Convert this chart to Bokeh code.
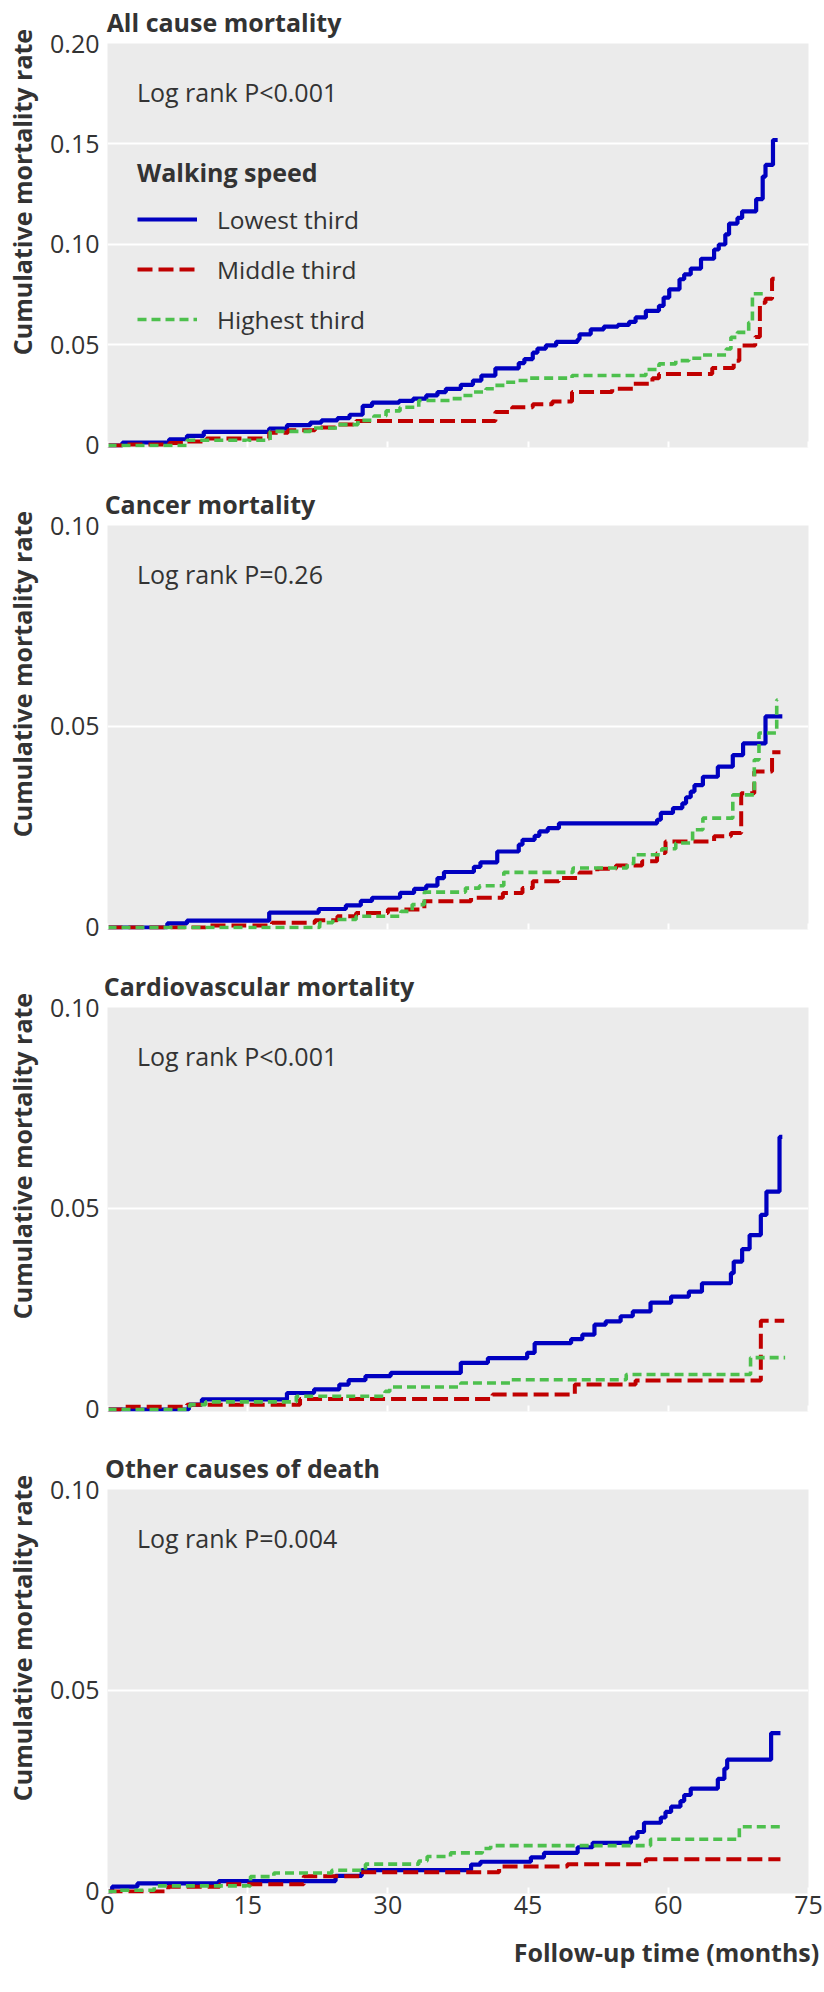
from bokeh.plotting import figure
from bokeh.models import Range1d, FixedTicker, Label, Legend, LegendItem, LinearAxis
from bokeh.layouts import column
from bokeh.embed import file_html
from bokeh.resources import INLINE

# ---------------- data / texts ----------------
panel_titles = ["All cause mortality", "Cancer mortality",
                "Cardiovascular mortality", "Other causes of death"]
log_rank_texts = ["Log rank P<0.001", "Log rank P=0.26",
                  "Log rank P<0.001", "Log rank P=0.004"]
log_rank_y = [0.176, 0.088, 0.088, 0.088]
log_rank_x = 3.15
y_max = [0.20, 0.10, 0.10, 0.10]
y_ticks_all = [0, 0.05, 0.10, 0.15, 0.20]
y_tick_labels_all = ["0", "0.05", "0.10", "0.15", "0.20"]
y_ticks_other = [0, 0.05, 0.10]
y_tick_labels_other = ["0", "0.05", "0.10"]
x_ticks = [0, 15, 30, 45, 60, 75]
x_tick_labels = ["0", "15", "30", "45", "60", "75"]
series_names = ["Lowest third", "Middle third", "Highest third"]
legend_title = "Walking speed"
y_title = "Cumulative mortality rate"
x_title = "Follow-up time (months)"

all_low_t = [0, 1.6, 6.6, 8.5, 10.3, 17.3, 19.2, 21.7, 22.9, 24.6, 25.9, 27.3, 28.3, 31.2, 32.7,
             34.1, 35.3, 36.2, 37.8, 39.1, 40.0, 41.5, 44.0, 44.6, 45.5, 46.0, 46.9, 48.0, 50.3,
             50.5, 51.7, 53.1, 54.6, 55.8, 56.5, 57.6, 59.0, 59.5, 60.1, 61.2, 61.7, 62.4, 63.5,
             64.9, 65.4, 66.1, 66.5, 67.4, 67.9, 69.4, 70.1, 70.4, 71.2, 71.7]
all_low_v = [0, .0015, .0031, .0048, .0068, .0084, .0101, .0114, .0125, .0136, .0153, .0197, .0213,
             .0222, .0233, .0249, .0266, .0282, .0302, .0323, .0348, .0384, .041, .043, .0462, .0482,
             .0498, .0516, .0528, .0553, .0578, .0591, .06, .0615, .0637, .067, .0695, .0736, .0777,
             .0827, .0851, .088, .0929, .0975, .1, .105, .1104, .1132, .1165, .1226, .1338, .1396,
             .152, .152]
all_mid_t = [0, 2.1, 6.6, 8.5, 10.6, 17.3, 19.3, 22.2, 24.6, 26.6, 41.5, 43.3, 45.5, 47.6, 49.7,
             54.0, 56.3, 58.3, 59.0, 64.7, 67.0, 67.6, 69.3, 69.8, 70.4, 71.1, 71.9]
all_mid_v = [0, .0005, .0013, .002, .0035, .0064, .0076, .0089, .0104, .0122, .0167, .019, .0205,
             .0219, .0266, .0282, .0307, .0335, .0356, .0385, .0422, .0497, .054, .071, .073, .083,
             .083]
all_high_t = [0, 8.5, 17.4, 21.7, 24.6, 26.8, 28.5, 29.8, 31.3, 33.3, 36.9, 38.0, 39.1, 40.5, 41.5,
              42.6, 43.7, 45.1, 49.7, 57.6, 59.0, 60.8, 62.2, 63.7, 66.2, 66.7, 67.4, 68.6, 69.0,
              70.6]
all_high_v = [0, .0026, .007, .0087, .0104, .0125, .0147, .0172, .019, .0224, .0233, .0249, .0266,
              .0282, .0299, .0315, .0323, .0335, .0348, .0378, .0406, .0422, .0434, .045, .048,
              .0538, .0563, .0612, .0755, .0755]

can_low_t = [0, 6.4, 8.5, 17.3, 22.6, 25.5, 27.1, 28.3, 31.3, 32.8, 34.1, 35.3, 36.0, 39.2, 39.9,
             41.7, 44.0, 44.4, 45.7, 46.2, 47.1, 48.3, 58.8, 59.2, 60.5, 61.5, 61.9, 62.4, 62.8,
             63.7, 65.3, 66.9, 68.0, 70.4, 72.2]
can_low_v = [0, .001, .0017, .0037, .0046, .0055, .0066, .0074, .0086, .0096, .0104, .0123, .0138,
             .0151, .0162, .0189, .0206, .0218, .0228, .0239, .0247, .0259, .0268, .0285, .0297,
             .0309, .0324, .0338, .0354, .0375, .04, .0429, .0458, .0525, .0525]
can_mid_t = [0, 10.5, 17.6, 22.2, 24.6, 26.6, 30.0, 33.9, 38.9, 42.3, 44.4, 45.5, 48.3, 50.5, 52.4,
             54.4, 57.2, 58.8, 59.7, 64.9, 66.7, 67.8, 69.2, 71.1, 72.0]
can_mid_v = [0, .0005, .0012, .0018, .0028, .0036, .0045, .0065, .0074, .0086, .0098, .0115, .0123,
             .0137, .0146, .0154, .0165, .0185, .0214, .0227, .0235, .0334, .0388, .0436, .0436]
can_high_t = [0, 22.7, 24.1, 26.6, 31.4, 32.6, 33.9, 38.3, 39.8, 42.4, 49.8, 55.6, 56.3, 59.3, 60.8,
              62.6, 63.7, 66.9, 69.2, 69.7, 71.6, 71.7]
can_high_v = [0, .0012, .002, .0028, .004, .0057, .0088, .0098, .0104, .0137, .0148, .0159, .0181,
              .0196, .021, .0243, .0272, .033, .0417, .0484, .0566, .0566]

cvd_low_t = [0, 8.7, 10.1, 19.2, 22.1, 24.8, 25.8, 27.6, 30.3, 37.8, 40.7, 44.9, 45.7, 49.6, 50.8,
             52.1, 53.3, 54.9, 56.2, 58.1, 60.3, 62.2, 63.6, 66.7, 67.0, 67.9, 68.7, 69.9, 70.5,
             71.9, 72.2]
cvd_low_v = [0, .0012, .0025, .0041, .005, .0062, .0073, .0083, .0091, .0116, .0128, .0141, .0165,
             .0175, .0186, .0211, .0219, .0232, .0244, .0266, .0281, .0293, .0314, .0339, .0368,
             .0399, .0434, .0484, .0542, .0678, .0678]
cvd_mid_t = [0, 1.4, 8.5, 20.6, 41.2, 50.0, 56.5, 69.9, 72.4]
cvd_mid_v = [0, .0007, .0012, .0026, .0037, .0062, .0072, .0221, .0221]
cvd_high_t = [0, 8.8, 10.5, 20.2, 29.7, 30.2, 37.8, 43.2, 55.5, 68.8, 72.5]
cvd_high_v = [0, .0012, .0019, .0033, .0045, .0056, .0066, .0074, .0087, .0129, .0129]

oth_low_t = [0, 0.5, 3.2, 11.9, 24.4, 27.2, 38.9, 39.9, 45.3, 46.7, 50.3, 51.9, 56.0, 56.7, 57.4,
             59.2, 59.7, 60.3, 61.3, 61.7, 62.4, 65.3, 66.0, 66.3, 71.0, 72.0]
oth_low_v = [0, .0012, .002, .0026, .0039, .0053, .0067, .0074, .0085, .0096, .011, .0121, .0134,
             .0148, .0171, .0184, .0198, .0211, .0225, .024, .0256, .028, .0306, .0328, .0394, .0394]
oth_mid_t = [0, 6.5, 12.0, 21.0, 27.0, 41.9, 49.2, 57.6, 72.0]
oth_mid_v = [0, .0012, .0018, .0038, .0048, .0062, .0068, .008, .008]
oth_high_t = [0, 1.0, 5.0, 15.3, 17.8, 24.0, 27.6, 33.3, 34.2, 36.7, 40.1, 41.0, 58.1, 67.6, 72.2]
oth_high_v = [0, .0003, .0014, .0037, .0046, .0053, .0068, .0076, .0087, .0096, .0107, .0114, .013,
              .0161, .0161]

panels_data = [
    [(all_low_t, all_low_v), (all_mid_t, all_mid_v), (all_high_t, all_high_v)],
    [(can_low_t, can_low_v), (can_mid_t, can_mid_v), (can_high_t, can_high_v)],
    [(cvd_low_t, cvd_low_v), (cvd_mid_t, cvd_mid_v), (cvd_high_t, cvd_high_v)],
    [(oth_low_t, oth_low_v), (oth_mid_t, oth_mid_v), (oth_high_t, oth_high_v)],
]

# ---------------- style / layout ----------------
FONT = "Open Sans"
TXT = "#333333"
BG = "#EBEBEB"
COLORS = ["#0000C0", "#C00000", "#4DC04D"]
DASHES = ["solid", "15 6", "9 5"]
WIDTHS = [4.2, 4, 3.6]
FRAME_H = 404
FRAME_W = 701
LEFT = 107
RIGHT = 16
TOP = 43
PITCH = 482
LAST_BOTTOM = 99
TITLE_CENTER_PX = [116.5, 102.5, 151.5, 135.0]   # title centre, px right of frame left
YTITLE_CENTER_PX = 148.5                         # y title centre, px below frame top
XTITLE_CENTER_PX = 559.0                         # x title centre, px right of frame left
TITLE_STANDOFF = 5
YTITLE_STANDOFF = 9
XTITLE_STANDOFF = 18
YTICK_STANDOFF = 8
TICK_FONT = "25px"


def text_axis(tick, text, standoff, orientation="horizontal"):
    return LinearAxis(ticker=FixedTicker(ticks=[tick]),
                      major_label_overrides={tick: text},
                      major_label_orientation=orientation,
                      axis_line_color=None, major_tick_line_color=None,
                      minor_tick_line_color=None,
                      major_tick_in=0, major_tick_out=0, minor_tick_in=0, minor_tick_out=0,
                      major_label_standoff=standoff,
                      major_label_text_font=FONT, major_label_text_font_size="25px",
                      major_label_text_font_style="bold", major_label_text_color=TXT)


def make_panel(i):
    last = i == 3
    ymax = y_max[i]
    ticks = y_ticks_all if i == 0 else y_ticks_other
    tlabels = y_tick_labels_all if i == 0 else y_tick_labels_other
    bottom = LAST_BOTTOM if last else PITCH - TOP - FRAME_H
    y0 = -ymax * 0.005
    p = figure(width=LEFT + FRAME_W + RIGHT, height=TOP + FRAME_H + bottom,
               x_range=Range1d(0, 75), y_range=Range1d(y0, ymax),
               output_backend="svg", toolbar_location=None,
               min_border_left=LEFT, min_border_right=RIGHT, min_border_top=TOP,
               min_border_bottom=bottom)
    p.background_fill_color = BG
    p.border_fill_color = "white"
    p.outline_line_color = None
    p.xgrid.grid_line_color = None
    p.ygrid.ticker = FixedTicker(ticks=[t for t in ticks if t > 0])
    p.ygrid.grid_line_color = "white"
    p.ygrid.grid_line_width = 2

    yax = p.yaxis[0]
    yax.ticker = FixedTicker(ticks=ticks)
    yax.major_label_overrides = {t: l for t, l in zip(ticks, tlabels)}
    yax.axis_line_color = None
    yax.major_tick_line_color = None
    yax.minor_tick_line_color = None
    yax.major_tick_in = 0
    yax.major_tick_out = 0
    yax.minor_tick_in = 0
    yax.minor_tick_out = 0
    yax.major_label_standoff = YTICK_STANDOFF
    yax.major_label_text_font = FONT
    yax.major_label_text_font_size = TICK_FONT
    yax.major_label_text_color = TXT

    xax = p.xaxis[0]
    xax.ticker = FixedTicker(ticks=x_ticks)
    if last:
        xax.major_label_overrides = {t: l for t, l in zip(x_ticks, x_tick_labels)}
        xax.major_label_standoff = 2
    else:
        xax.major_label_overrides = {t: "" for t in x_ticks}
        xax.major_label_standoff = 0
    xax.axis_line_color = None
    xax.major_tick_in = 6
    xax.major_tick_out = 0
    xax.minor_tick_in = 0
    xax.minor_tick_out = 0
    xax.major_tick_line_color = "white"
    xax.major_tick_line_width = 2
    xax.minor_tick_line_color = None
    xax.major_label_text_font = FONT
    xax.major_label_text_font_size = TICK_FONT
    xax.major_label_text_color = TXT

    renderers = []
    for k, (t, v) in enumerate(panels_data[i]):
        r = p.step(x=t, y=v, mode="after", line_color=COLORS[k], line_width=WIDTHS[k],
                   line_dash=DASHES[k])
        renderers.append(r)

    px_per_y = FRAME_H / (ymax - y0)
    px_per_x = FRAME_W / 75.0

    # panel title, y title and x title as outer text axes
    p.add_layout(text_axis(TITLE_CENTER_PX[i] / px_per_x, panel_titles[i], TITLE_STANDOFF),
                 "above")
    p.add_layout(text_axis(ymax - YTITLE_CENTER_PX / px_per_y, y_title, YTITLE_STANDOFF,
                           "vertical"), "left")
    if last:
        p.add_layout(text_axis(XTITLE_CENTER_PX / px_per_x, x_title, XTITLE_STANDOFF), "below")

    p.add_layout(Label(x=log_rank_x, y=log_rank_y[i], text=log_rank_texts[i],
                       text_font=FONT, text_font_size="25px", text_color=TXT,
                       text_align="left", text_baseline="middle"))

    if i == 0:
        items = [LegendItem(label=series_names[k], renderers=[renderers[k]]) for k in range(3)]
        leg = Legend(items=items, location=(30, 110), title=legend_title,
                     title_text_font=FONT, title_text_font_size="25px",
                     title_text_font_style="bold", title_text_color=TXT,
                     title_standoff=12,
                     label_text_font=FONT, label_text_font_size="24.5px",
                     label_text_color=TXT, label_standoff=20,
                     glyph_width=60, glyph_height=36, label_height=36, spacing=14,
                     padding=0, margin=0, border_line_alpha=0,
                     background_fill_alpha=0)
        p.add_layout(leg)
    return p


panels = [make_panel(i) for i in range(4)]
layout = column(*panels)
open("out.html", "w").write(file_html(layout, INLINE))
